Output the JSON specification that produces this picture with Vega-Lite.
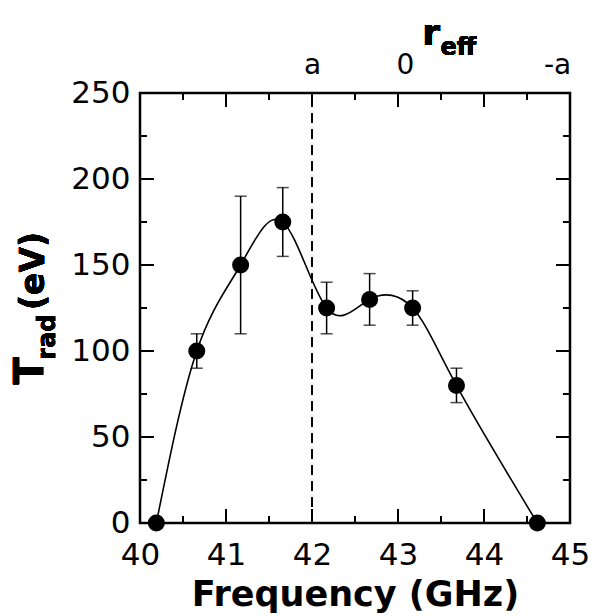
{
  "$schema": "https://vega.github.io/schema/vega-lite/v6.json",
  "autosize": {"type": "none"},
  "padding": {"left": 140, "top": 93, "right": 25, "bottom": 93},
  "width": 430,
  "height": 430,
  "background": "white",
  "config": {
    "view": {"stroke": "black", "strokeWidth": 2.5, "fill": null},
    "axis": {
      "labelFont": "DejaVu Sans",
      "labelFontSize": 31,
      "labelColor": "black",
      "labelFlush": false,
      "labelOverlap": false,
      "domain": false,
      "grid": false,
      "ticks": false,
      "title": null
    }
  },
  "datasets": {
    "pts": [
      {"f": 40.19, "t": 0},
      {"f": 40.66, "t": 100, "lo": 90, "hi": 110},
      {"f": 41.17, "t": 150, "lo": 110, "hi": 190},
      {"f": 41.66, "t": 175, "lo": 155, "hi": 195},
      {"f": 42.17, "t": 125, "lo": 110, "hi": 140},
      {"f": 42.67, "t": 130, "lo": 115, "hi": 145},
      {"f": 43.17, "t": 125, "lo": 115, "hi": 135},
      {"f": 43.68, "t": 80, "lo": 70, "hi": 90},
      {"f": 44.62, "t": 0}
    ],
    "xt": [
      {"v": 40.5, "kind": "minor"}, {"v": 41, "kind": "major"},
      {"v": 41.5, "kind": "minor"}, {"v": 42, "kind": "major"},
      {"v": 42.5, "kind": "minor"}, {"v": 43, "kind": "major"},
      {"v": 43.5, "kind": "minor"}, {"v": 44, "kind": "major"},
      {"v": 44.5, "kind": "minor"}
    ],
    "yt": [
      {"v": 25, "kind": "minor"}, {"v": 50, "kind": "major"},
      {"v": 75, "kind": "minor"}, {"v": 100, "kind": "major"},
      {"v": 125, "kind": "minor"}, {"v": 150, "kind": "major"},
      {"v": 175, "kind": "minor"}, {"v": 200, "kind": "major"},
      {"v": 225, "kind": "minor"}
    ]
  },
  "data": {"name": "pts"},
  "resolve": {"axis": {"x": "independent", "y": "independent"}},
  "layer": [
    {
      "mark": {"type": "line", "interpolate": "natural", "color": "black", "strokeWidth": 1.6},
      "encoding": {
        "x": {"field": "f", "type": "quantitative",
              "scale": {"domain": [40, 45], "nice": false, "zero": false},
              "axis": {"orient": "bottom", "values": [40, 41, 42, 43, 44, 45], "labelPadding": 17,
                       "title": "Frequency (GHz)", "titleFont": "DejaVu Sans", "titleFontWeight": "bold",
                       "titleFontSize": 35, "titleColor": "black", "titlePadding": 7}},
        "y": {"field": "t", "type": "quantitative",
              "scale": {"domain": [0, 250], "nice": false, "zero": true},
              "axis": {"orient": "left", "values": [0, 50, 100, 150, 200, 250], "labelPadding": 10}}
      }
    },
    {
      "transform": [{"filter": "isValid(datum.lo)"}],
      "mark": {"type": "rule", "color": "black", "strokeWidth": 1.5},
      "encoding": {
        "x": {"field": "f", "type": "quantitative", "axis": null},
        "y": {"field": "lo", "type": "quantitative", "axis": null},
        "y2": {"field": "hi"}
      }
    },
    {
      "transform": [{"filter": "isValid(datum.lo)"}, {"fold": ["lo", "hi"], "as": ["end", "v"]}],
      "mark": {"type": "tick", "orient": "horizontal", "color": "black", "size": 12, "thickness": 1.5},
      "encoding": {
        "x": {"field": "f", "type": "quantitative", "axis": null},
        "y": {"field": "v", "type": "quantitative", "axis": null}
      }
    },
    {
      "mark": {"type": "point", "filled": true, "color": "black", "opacity": 1, "size": 290},
      "encoding": {
        "x": {"field": "f", "type": "quantitative", "axis": null},
        "y": {"field": "t", "type": "quantitative", "axis": null}
      }
    },
    {
      "mark": {"type": "point", "opacity": 0},
      "encoding": {
        "x": {"field": "f", "type": "quantitative",
              "axis": {"orient": "top", "values": [42, 43.08, 44.85], "labelPadding": 14,
                       "labelFontSize": 28,
                       "labelExpr": "datum.value === 42 ? 'a' : datum.value < 44 ? '0' : '-a'"}},
        "y": {"field": "t", "type": "quantitative", "axis": null}
      }
    },
    {
      "data": {"name": "xt"},
      "transform": [{"filter": "datum.kind === 'major'"}],
      "mark": {"type": "rule", "color": "black", "strokeWidth": 2},
      "encoding": {
        "x": {"field": "v", "type": "quantitative", "axis": null},
        "y": {"datum": 0, "type": "quantitative", "axis": null},
        "y2": {"datum": 8.1}
      }
    },
    {
      "data": {"name": "xt"},
      "transform": [{"filter": "datum.kind === 'major'"}],
      "mark": {"type": "rule", "color": "black", "strokeWidth": 2},
      "encoding": {
        "x": {"field": "v", "type": "quantitative", "axis": null},
        "y": {"datum": 250, "type": "quantitative", "axis": null},
        "y2": {"datum": 241.9}
      }
    },
    {
      "data": {"name": "xt"},
      "transform": [{"filter": "datum.kind === 'minor'"}],
      "mark": {"type": "rule", "color": "black", "strokeWidth": 2},
      "encoding": {
        "x": {"field": "v", "type": "quantitative", "axis": null},
        "y": {"datum": 0, "type": "quantitative", "axis": null},
        "y2": {"datum": 4.1}
      }
    },
    {
      "data": {"name": "xt"},
      "transform": [{"filter": "datum.kind === 'minor'"}],
      "mark": {"type": "rule", "color": "black", "strokeWidth": 2},
      "encoding": {
        "x": {"field": "v", "type": "quantitative", "axis": null},
        "y": {"datum": 250, "type": "quantitative", "axis": null},
        "y2": {"datum": 245.9}
      }
    },
    {
      "data": {"name": "yt"},
      "transform": [{"filter": "datum.kind === 'major'"}],
      "mark": {"type": "rule", "color": "black", "strokeWidth": 2},
      "encoding": {
        "y": {"field": "v", "type": "quantitative", "axis": null},
        "x": {"datum": 40, "type": "quantitative", "axis": null},
        "x2": {"datum": 40.163}
      }
    },
    {
      "data": {"name": "yt"},
      "transform": [{"filter": "datum.kind === 'major'"}],
      "mark": {"type": "rule", "color": "black", "strokeWidth": 2},
      "encoding": {
        "y": {"field": "v", "type": "quantitative", "axis": null},
        "x": {"datum": 45, "type": "quantitative", "axis": null},
        "x2": {"datum": 44.837}
      }
    },
    {
      "data": {"name": "yt"},
      "transform": [{"filter": "datum.kind === 'minor'"}],
      "mark": {"type": "rule", "color": "black", "strokeWidth": 2},
      "encoding": {
        "y": {"field": "v", "type": "quantitative", "axis": null},
        "x": {"datum": 40, "type": "quantitative", "axis": null},
        "x2": {"datum": 40.082}
      }
    },
    {
      "data": {"name": "yt"},
      "transform": [{"filter": "datum.kind === 'minor'"}],
      "mark": {"type": "rule", "color": "black", "strokeWidth": 2},
      "encoding": {
        "y": {"field": "v", "type": "quantitative", "axis": null},
        "x": {"datum": 45, "type": "quantitative", "axis": null},
        "x2": {"datum": 44.918}
      }
    },
    {
      "mark": {"type": "rule", "color": "black", "strokeWidth": 1.5, "strokeDash": [10, 6]},
      "encoding": {
        "x": {"datum": 42, "type": "quantitative", "axis": null},
        "y": {"datum": 0, "type": "quantitative", "axis": null},
        "y2": {"datum": 250}
      }
    },
    {
      "mark": {"type": "text", "text": "T", "angle": 270, "font": "DejaVu Sans", "fontWeight": "bold",
               "fontSize": 40, "align": "center", "baseline": "alphabetic", "color": "black"},
      "encoding": {
        "x": {"datum": 38.872, "type": "quantitative", "axis": null},
        "y": {"datum": 88.4, "type": "quantitative", "axis": null}
      }
    },
    {
      "mark": {"type": "text", "text": "rad", "angle": 270, "font": "DejaVu Sans", "fontWeight": "bold",
               "fontSize": 24, "align": "center", "baseline": "alphabetic", "color": "black"},
      "encoding": {
        "x": {"datum": 39.012, "type": "quantitative", "axis": null},
        "y": {"datum": 108.1, "type": "quantitative", "axis": null}
      }
    },
    {
      "mark": {"type": "text", "text": "(eV)", "angle": 270, "font": "DejaVu Sans", "fontWeight": "bold",
               "fontSize": 33, "align": "center", "baseline": "alphabetic", "color": "black"},
      "encoding": {
        "x": {"datum": 38.885, "type": "quantitative", "axis": null},
        "y": {"datum": 146.5, "type": "quantitative", "axis": null}
      }
    },
    {
      "mark": {"type": "text", "text": "r", "font": "DejaVu Sans", "fontWeight": "bold",
               "fontSize": 36, "align": "center", "baseline": "alphabetic", "color": "black"},
      "encoding": {
        "x": {"datum": 43.384, "type": "quantitative", "axis": null},
        "y": {"datum": 277.9, "type": "quantitative", "axis": null}
      }
    },
    {
      "mark": {"type": "text", "text": "eff", "font": "DejaVu Sans", "fontWeight": "bold",
               "fontSize": 24, "align": "left", "baseline": "alphabetic", "color": "black"},
      "encoding": {
        "x": {"datum": 43.495, "type": "quantitative", "axis": null},
        "y": {"datum": 272.1, "type": "quantitative", "axis": null}
      }
    }
  ]
}
